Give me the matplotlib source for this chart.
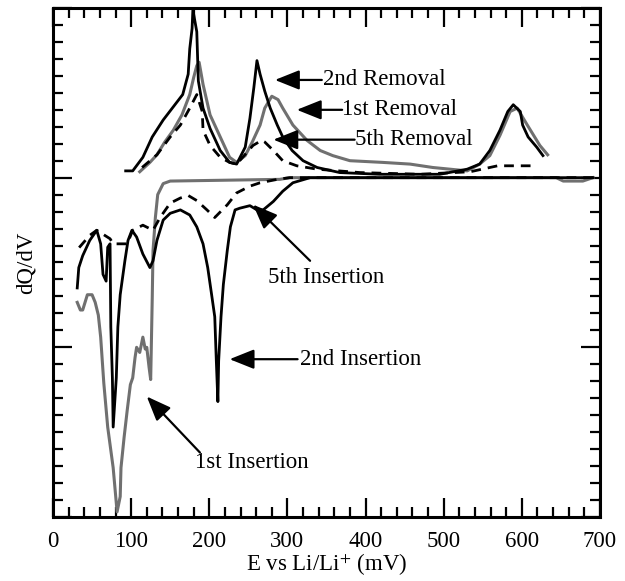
import matplotlib
matplotlib.use("Agg")
import matplotlib.pyplot as plt
from matplotlib.ticker import MultipleLocator, NullFormatter

plt.rcParams["font.family"] = ["Liberation Serif", "DejaVu Serif"]
plt.rcParams["mathtext.fontset"] = "stix"

# removal (charge) curves, E in mV, dQ/dV in arbitrary units
rem1_x = [111, 124, 133, 143, 154, 165, 175, 180, 184, 187, 192, 201, 214, 226, 235,
          246, 255, 265, 271, 280, 288, 294, 307, 325, 342, 358, 380, 422, 457, 486,
          530, 546, 559, 572, 585, 594, 607, 623, 633]
rem1_y = [0.035, 0.09, 0.135, 0.21, 0.28, 0.37, 0.49, 0.59, 0.66, 0.68, 0.55, 0.37,
          0.24, 0.12, 0.09, 0.13, 0.21, 0.31, 0.41, 0.48, 0.46, 0.41, 0.31, 0.22, 0.16,
          0.13, 0.10, 0.09, 0.08, 0.06, 0.04, 0.08, 0.13, 0.25, 0.39, 0.41, 0.31, 0.19,
          0.135]

rem2_x = [93, 102, 115, 127, 141, 156, 166, 173, 175, 178, 179, 184, 186, 192, 201,
          214, 226, 235, 246, 252, 257, 261, 265, 271, 278, 287, 294, 306, 320, 338,
          367, 418, 495, 530, 546, 559, 572, 582, 589, 598, 601, 608, 619, 627]
rem2_y = [0.04, 0.04, 0.12, 0.24, 0.34, 0.43, 0.49, 0.61, 0.76, 0.88, 0.99, 0.86, 0.57,
          0.41, 0.29, 0.16, 0.09, 0.08, 0.18, 0.35, 0.53, 0.69, 0.61, 0.51, 0.41, 0.31,
          0.24, 0.16, 0.10, 0.06, 0.03, 0.02, 0.02, 0.05, 0.08, 0.16, 0.28, 0.39, 0.43,
          0.39, 0.31, 0.24, 0.18, 0.13]

rem5_x = [114, 133, 150, 163, 175, 184, 191, 192, 201, 214, 226, 235, 256, 267, 271,
          282, 294, 312, 338, 393, 470, 534, 569, 619]
rem5_y = [0.06, 0.135, 0.24, 0.31, 0.41, 0.49, 0.39, 0.28, 0.19, 0.12, 0.09, 0.08,
          0.19, 0.22, 0.21, 0.16, 0.10, 0.07, 0.05, 0.03, 0.02, 0.035, 0.07, 0.07]

# insertion (discharge) curves
ins1_x = [691, 678, 653, 644, 303, 290, 150, 141, 134, 131, 128, 127, 125, 123, 120,
          118, 115, 111, 107, 105, 102, 99, 95, 91, 87, 86, 82, 77, 70, 65, 61, 58, 54,
          50, 44, 38, 35, 31]
ins1_y = [0.0, -0.02, -0.02, 0.0, 0.0, -0.01, -0.02, -0.035, -0.10, -0.235, -0.43,
          -0.71, -1.19, -1.12, -1.0, -1.01, -0.94, -1.03, -1.0, -1.06, -1.18, -1.22,
          -1.37, -1.53, -1.71, -1.88, -1.97, -1.71, -1.47, -1.21, -0.94, -0.81, -0.735,
          -0.69, -0.69, -0.78, -0.78, -0.735]

ins2_x = [691, 367, 329, 307, 294, 282, 269, 261, 252, 239, 233, 227, 223, 218, 215,
          212, 211, 209, 207, 203, 198, 192, 184, 175, 163, 150, 141, 133, 128, 124,
          115, 107, 101, 96, 92, 86, 83, 81, 77, 76, 74, 73, 70, 68, 64, 61, 56, 47,
          38, 33, 31]
ins2_y = [0.0, 0.0, 0.0, -0.03, -0.08, -0.14, -0.19, -0.19, -0.165, -0.18, -0.19,
          -0.29, -0.43, -0.63, -0.82, -1.08, -1.32, -1.08, -0.82, -0.69, -0.53, -0.39,
          -0.29, -0.22, -0.19, -0.21, -0.25, -0.37, -0.49, -0.53, -0.45, -0.35, -0.31,
          -0.37, -0.49, -0.69, -0.88, -1.18, -1.47, -1.18, -0.88, -0.39, -0.41, -0.61,
          -0.57, -0.39, -0.31, -0.37, -0.46, -0.53, -0.65]

ins5_x = [691, 303, 287, 265, 252, 235, 223, 207, 197, 184, 173, 163, 150, 137, 128,
          115, 102, 95, 77, 73, 56, 47, 32]
ins5_y = [0.0, 0.0, -0.01, -0.03, -0.05, -0.09, -0.16, -0.235, -0.19, -0.135, -0.105,
          -0.12, -0.15, -0.235, -0.31, -0.28, -0.31, -0.39, -0.39, -0.36, -0.31, -0.34,
          -0.42]

gray = "#707070"

fig = plt.figure(figsize=(6.25, 5.81), dpi=100)
ax = fig.add_axes([0.0848, 0.1102, 0.8752, 0.876])

ax.plot(ins1_x, ins1_y, color=gray, lw=2.2)
ax.plot(ins2_x, ins2_y, color="black", lw=2.0)
ax.plot(ins5_x, ins5_y, color="black", lw=2.0, dashes=(3.5, 2.5))
ax.plot(rem1_x, rem1_y, color=gray, lw=2.2)
ax.plot(rem2_x, rem2_y, color="black", lw=2.0)
ax.plot(rem5_x, rem5_y, color="black", lw=2.0, dashes=(3.5, 2.5))

ax.set_xlim(0, 700)
ax.set_ylim(-2, 1)

# arrows pointing at each curve
arrow = dict(arrowstyle="-|>,head_length=0.75,head_width=0.3", mutation_scale=20,
             color="black", lw=1.6, shrinkA=0, shrinkB=0)
fs = 16.5
labels = [
    ("2nd Removal", (284, 0.576), (344, 0.576), (346, 0.576)),
    ("1st Removal", (312, 0.40), (370, 0.40), (370, 0.40)),
    ("5th Removal", (282, 0.224), (386, 0.224), (386, 0.224)),
    ("2nd Insertion", (226, -1.07), (313, -1.07), (316, -1.07)),
]
for txt, tip, tail, pos in labels:
    ax.annotate("", xy=tip, xytext=tail, arrowprops=arrow)
    ax.text(pos[0], pos[1], txt, fontsize=fs, ha="left", va="center")

ax.annotate("", xy=(256, -0.159), xytext=(329, -0.49), arrowprops=arrow)
ax.text(275, -0.59, "5th Insertion", fontsize=fs, ha="left", va="center")
ax.annotate("", xy=(120, -1.29), xytext=(188, -1.62), arrowprops=arrow)
ax.text(182, -1.68, "1st Insertion", fontsize=fs, ha="left", va="center")

# axes styling
ax.xaxis.set_major_locator(MultipleLocator(100))
ax.xaxis.set_minor_locator(MultipleLocator(20))
ax.yaxis.set_major_locator(MultipleLocator(1))
ax.yaxis.set_minor_locator(MultipleLocator(0.1))
ax.yaxis.set_major_formatter(NullFormatter())
ax.tick_params(which="both", direction="in", top=True, right=True, width=1.6,
               labelsize=fs, pad=10)
ax.tick_params(which="major", length=14)
ax.tick_params(which="minor", length=7)
for sp in ax.spines.values():
    sp.set_linewidth(2.2)

ax.set_xlabel("E vs Li/Li$^{+}$ (mV)", fontsize=fs, labelpad=0)
ax.set_ylabel("dQ/dV", fontsize=fs, labelpad=2)

plt.savefig("out.png", dpi=100)
